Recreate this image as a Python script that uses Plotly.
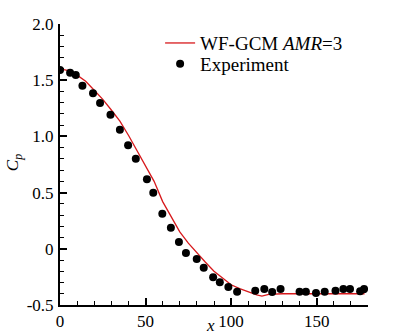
import plotly.graph_objects as go

# Simulation line (WF-GCM AMR=3)
sim_x = [0, 5, 10, 15, 20, 25, 30, 35, 40, 45, 50, 55, 60, 63, 70, 75, 80, 85, 90, 95,
         100, 105, 110, 115, 118, 122, 130, 140, 150, 160, 170, 178]
sim_y = [1.60, 1.585, 1.545, 1.49, 1.41, 1.33, 1.235, 1.135, 1.01, 0.87, 0.73, 0.60, 0.42, 0.34,
         0.15, 0.05, -0.04, -0.12, -0.20, -0.26, -0.32, -0.355, -0.385, -0.41, -0.42, -0.405,
         -0.40, -0.40, -0.40, -0.40, -0.40, -0.40]

# Experiment points
exp_x = [0, 5.9, 9.2, 13.1, 19.3, 23.4, 29.5, 35.0, 39.8, 44.3, 50.8, 54.5, 59.8, 64.8, 69.5,
         73.6, 79.9, 84.0, 89.5, 93.4, 98.4, 103.5, 114.1, 119.4, 124.0, 128.9, 140.0, 143.7,
         149.6, 154.7, 161.0, 165.6, 169.5, 175.4, 177.7]
exp_y = [1.59, 1.567, 1.546, 1.451, 1.383, 1.297, 1.193, 1.060, 0.921, 0.802, 0.618, 0.499,
         0.312, 0.188, 0.060, -0.037, -0.091, -0.168, -0.254, -0.298, -0.340, -0.382, -0.373,
         -0.358, -0.385, -0.358, -0.382, -0.382, -0.393, -0.382, -0.373, -0.358, -0.358,
         -0.378, -0.358]

x_ticks = [0, 50, 100, 150]
x_labels = ["0", "50", "100", "150"]
y_ticks = [-0.5, 0, 0.5, 1.0, 1.5, 2.0]
y_labels = ["-0.5", "0", "0.5", "1.0", "1.5", "2.0"]

FONT = "Liberation Serif, Times New Roman, serif"

fig = go.Figure()
fig.add_trace(go.Scatter(x=sim_x, y=sim_y, mode="lines",
                         line=dict(color="#d7191c", width=1.3),
                         name="WF-GCM <i>AMR</i>=3", legend="legend"))
fig.add_trace(go.Scatter(x=exp_x, y=exp_y, mode="markers",
                         marker=dict(color="black", size=8),
                         name="Experiment", legend="legend2"))

leg_common = dict(xanchor="left", yanchor="middle", bgcolor="rgba(0,0,0,0)",
                  font=dict(family=FONT, size=19), itemwidth=30)

fig.update_layout(
    width=394, height=336,
    margin=dict(l=60, r=26, t=24, b=31),
    paper_bgcolor="white", plot_bgcolor="white",
    font=dict(family=FONT, size=17, color="black"),
    showlegend=True,
    legend=dict(x=0.325, y=0.932, **leg_common),
    legend2=dict(x=0.325, y=0.858, **leg_common),
    annotations=[
        dict(text="<i>C</i><sub><i>p</i></sub>", xref="paper", yref="paper",
             x=-0.149, y=0.505, textangle=-90, showarrow=False,
             xanchor="center", yanchor="middle", font=dict(family=FONT, size=17)),
        dict(text="<i>x</i>", xref="paper", yref="paper",
             x=0.49, y=-0.072, showarrow=False,
             xanchor="center", yanchor="middle", font=dict(family=FONT, size=17)),
    ],
)
fig.update_xaxes(range=[0, 180], tickvals=x_ticks, ticktext=x_labels, automargin=False,
                 showgrid=False, zeroline=False, showline=True, linecolor="black",
                 linewidth=2, ticks="inside", ticklen=7, tickwidth=1.5, tickcolor="black",
                 minor=dict(dtick=10, ticks="inside", ticklen=4, tickcolor="black", tickwidth=1))
fig.update_yaxes(range=[-0.5, 2.0], tickvals=y_ticks, ticktext=y_labels, automargin=False,
                 showgrid=False, zeroline=False, showline=True, linecolor="black",
                 linewidth=2, ticks="inside", ticklen=7, tickwidth=1.5, tickcolor="black",
                 ticklabelstandoff=1,
                 minor=dict(dtick=0.1, ticks="inside", ticklen=4, tickcolor="black", tickwidth=1))

fig.write_html("out.html", config={"displayModeBar": False},
               post_script="document.body.style.margin='0';")
